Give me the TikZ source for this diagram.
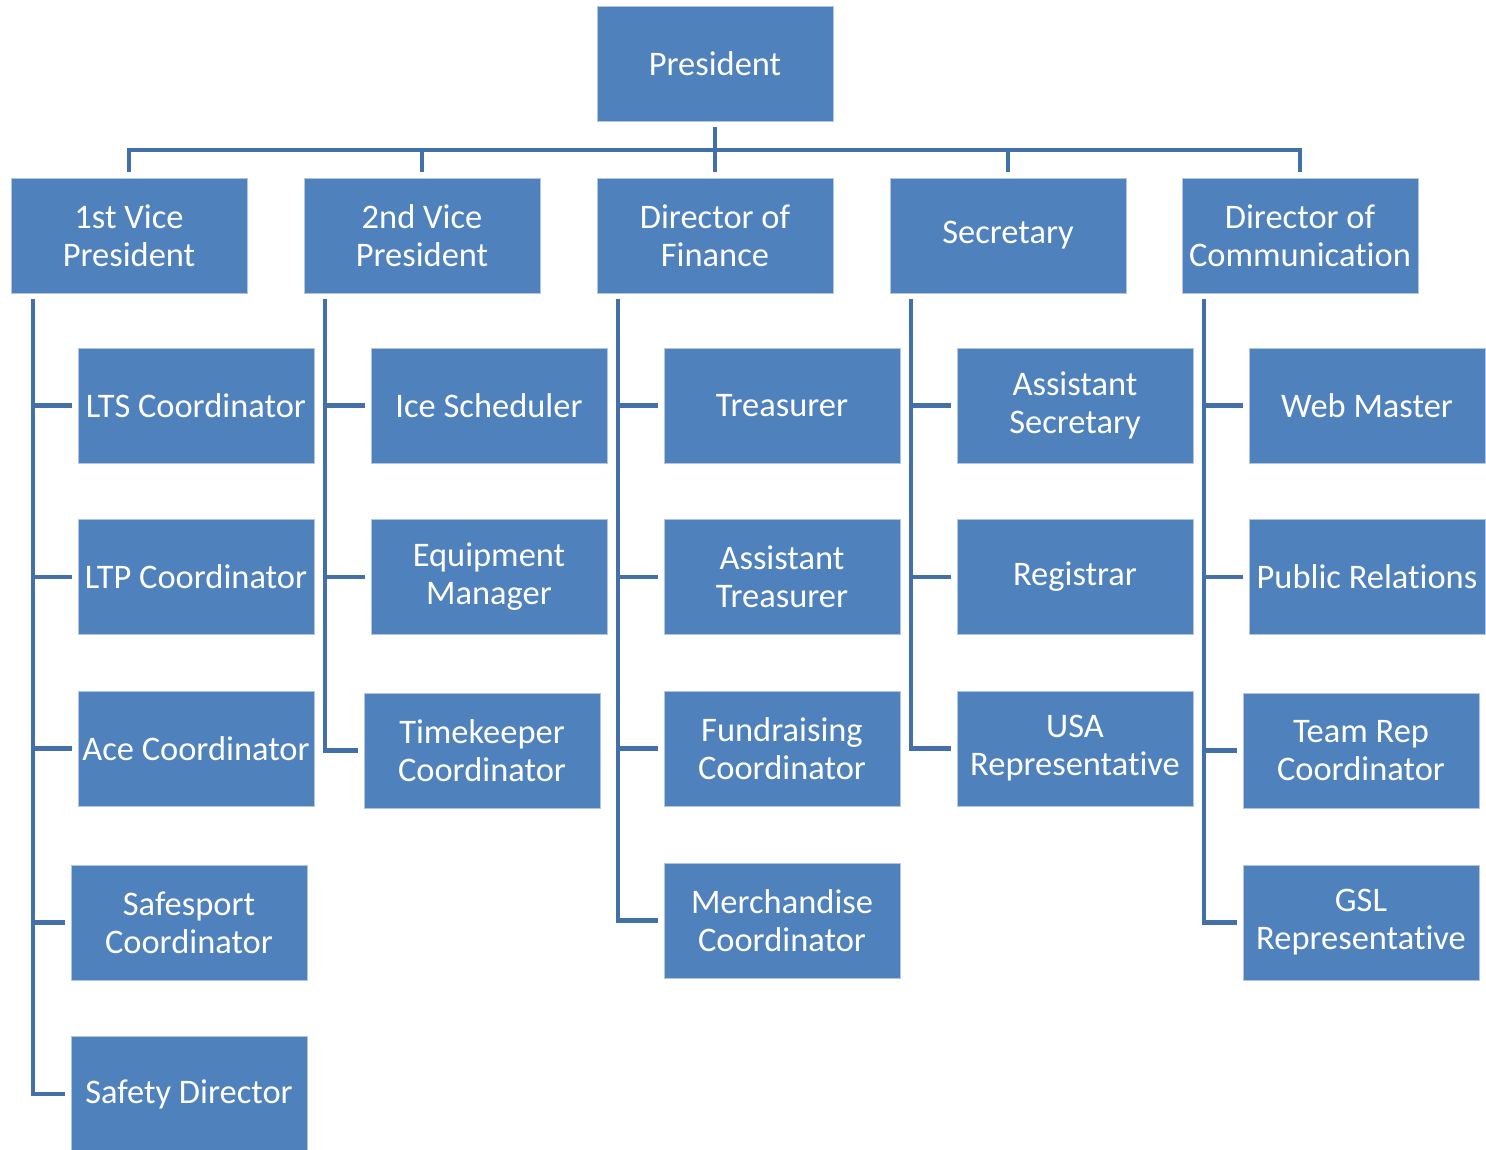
\documentclass[tikz,border=0pt]{standalone}
\usepackage{fontspec}
\setmainfont[Ligatures=NoCommon]{Carlito}
\usepackage{xcolor}
\usetikzlibrary{calc,positioning}
\definecolor{boxblue}{HTML}{4F81BD}
\definecolor{linkblue}{HTML}{4470AA}

\begin{document}
\begin{tikzpicture}[
    x=0.025cm, y=-0.025cm,
    office/.style={draw=white!55!boxblue,line width=0.6pt,fill=boxblue,text=white,
        minimum width=5.9cm,minimum height=2.875cm,inner sep=0pt,outer sep=0.15cm,
        align=center,font=\fontsize{24.5}{27}\selectfont},
    link/.style={draw=linkblue,line width=3.5pt}
]
\useasboundingbox (0,0) rectangle (1486,1150);

% --- Top ---
\node[office] (Pres) at (715,63.5) {President};

% --- Second row ---
\node[office] (VP1)    at (129,235.5)  {1st Vice\\President};
\node[office] (VP2)    at (422,235.5)  {2nd Vice\\President};
\node[office] (DirFin) at (715,235.5)  {Director of\\Finance};
\node[office] (Sec)    at (1008,235.5) {Secretary};
\node[office] (DirCom) at (1300,235.5) {Director of\\Communication};

% --- Under 1st VP ---
\node[office] (LTS)       at (196,405.5) {LTS Coordinator};
\node[office] (LTP)       at (196,577)   {LTP Coordinator};
\node[office] (Ace)       at (196,748.5) {Ace Coordinator};
\node[office] (Safesport) at (189,922.5) {Safesport\\Coordinator};
\node[office] (SafetyDir) at (189,1094)  {Safety Director};

% --- Under 2nd VP ---
\node[office] (Ice)        at (489,405.5) {Ice Scheduler};
\node[office] (Equip)      at (489,577)   {Equipment\\Manager};
\node[office] (Timekeeper) at (482,750.5) {Timekeeper\\Coordinator};

% --- Under Director of Finance ---
\node[office] (Treas)       at (782,405.5) {Treasurer};
\node[office] (AsstTreas)   at (782,577)   {Assistant\\Treasurer};
\node[office] (Fundraising) at (782,748.5) {Fundraising\\Coordinator};
\node[office] (Merch)       at (782,920.5) {Merchandise\\Coordinator};

% --- Under Secretary ---
\node[office] (AsstSec)   at (1075,405.5) {Assistant\\Secretary};
\node[office] (Registrar) at (1075,577)   {Registrar};
\node[office] (USARep)    at (1075,748.5) {USA\\Representative};

% --- Under Director of Communication ---
\node[office] (WebMaster) at (1367,405.5) {Web Master};
\node[office] (PR)        at (1367,577)   {Public Relations};
\node[office] (TeamRep)   at (1361,750.5) {Team Rep\\Coordinator};
\node[office] (GSL)       at (1361,922.5) {GSL\\Representative};

% --- Links from the president ---
\coordinate (bus) at (715,150);
\draw[link] (Pres.south) -- (bus);
\draw[link] (VP1.north) |- (bus);
\draw[link] (VP2.north) |- (bus);
\draw[link] (DirFin.north) |- (bus);
\draw[link] (Sec.north) |- (bus);
\draw[link] (DirCom.north) |- (bus);

% --- Trunks ---
\coordinate (VP1t)    at ($(VP1.south west)+(28,0)$);
\coordinate (VP2t)    at ($(VP2.south west)+(27,0)$);
\coordinate (DirFint) at ($(DirFin.south west)+(27,0)$);
\coordinate (Sect)    at ($(Sec.south west)+(27,0)$);
\coordinate (DirComt) at ($(DirCom.south west)+(28,0)$);

\draw[link] (VP1t) |- (LTS.west);
\draw[link] (VP1t) |- (LTP.west);
\draw[link] (VP1t) |- (Ace.west);
\draw[link] (VP1t) |- (Safesport.west);
\draw[link] (VP1t) |- (SafetyDir.west);

\draw[link] (VP2t) |- (Ice.west);
\draw[link] (VP2t) |- (Equip.west);
\draw[link] (VP2t) |- (Timekeeper.west);

\draw[link] (DirFint) |- (Treas.west);
\draw[link] (DirFint) |- (AsstTreas.west);
\draw[link] (DirFint) |- (Fundraising.west);
\draw[link] (DirFint) |- (Merch.west);

\draw[link] (Sect) |- (AsstSec.west);
\draw[link] (Sect) |- (Registrar.west);
\draw[link] (Sect) |- (USARep.west);

\draw[link] (DirComt) |- (WebMaster.west);
\draw[link] (DirComt) |- (PR.west);
\draw[link] (DirComt) |- (TeamRep.west);
\draw[link] (DirComt) |- (GSL.west);
\end{tikzpicture}
\end{document}
